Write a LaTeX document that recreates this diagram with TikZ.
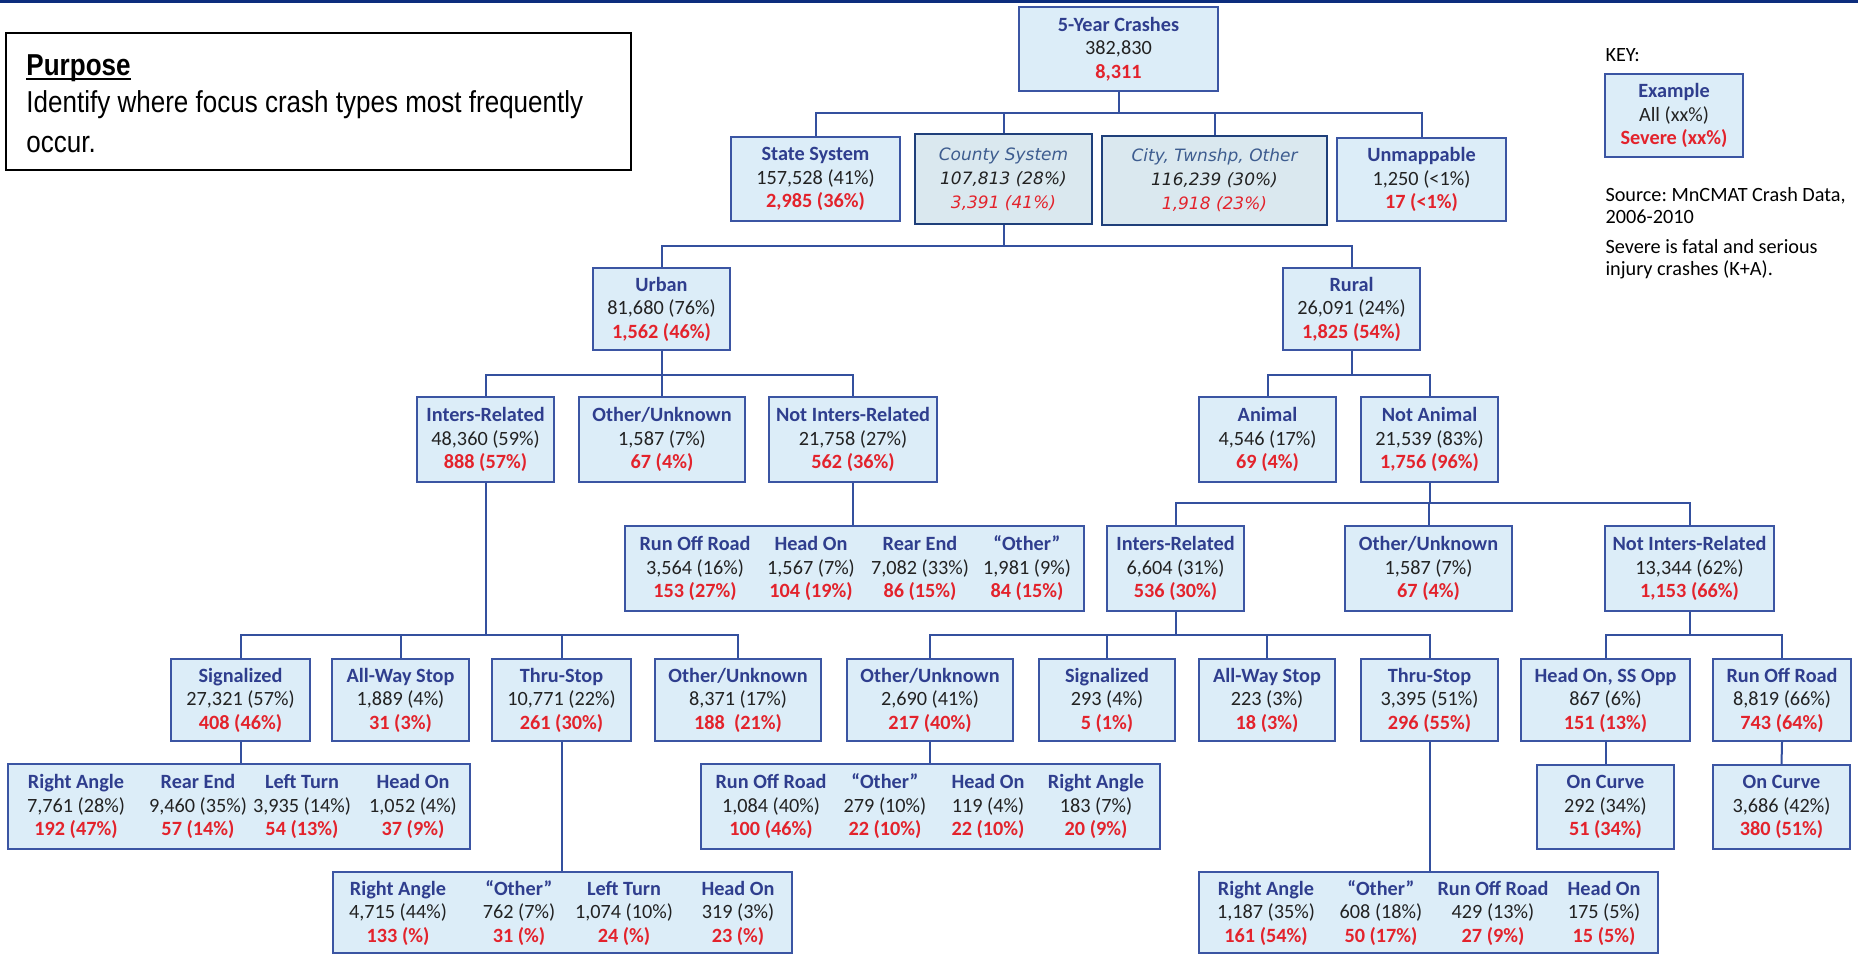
\documentclass[tikz,border=0pt]{standalone}
\usepackage{fontspec}
\setmainfont{Carlito}
\newfontfamily\purposefont{Liberation Sans}[FakeStretch=0.86]
\newfontfamily\vfont{DejaVu Sans}
\frenchspacing
\definecolor{bxfill}{HTML}{DCEDF8}
\definecolor{ibfill}{HTML}{DAE8EF}
\definecolor{bxline}{HTML}{3B55A3}
\definecolor{ibline}{HTML}{1F3F7A}
\definecolor{cnline}{HTML}{34509E}
\definecolor{ttl}{HTML}{2F3E8E}
\definecolor{ittl}{HTML}{3D5C8F}
\definecolor{num}{HTML}{222222}
\definecolor{sev}{HTML}{E3232C}
\definecolor{topband}{HTML}{0C2D7D}
\newcommand\three[3]{{\bfseries\color{ttl}#1}\\{\color{num}#2}\\{\bfseries\color{sev}#3}}
\newcommand\ithree[3]{{\color{ittl}#1}\\{\color{num}#2}\\{\color{sev}#3}}
\newcommand\cbx[7][box]{\node[#1, minimum width={(#5-#3)*0.4pt}, minimum height={(#6-#4)*0.4pt}] (#2) at ({(#3+#5)/2},{(#4+#6)/2}) {#7};}
\newcommand\ulpurpose[1]{\setbox0\hbox{#1}\leavevmode\rlap{\rule[-1.8pt]{\wd0}{0.8pt}}\box0}
\tikzset{
  box/.style={draw=bxline, line width=0.75pt, fill=bxfill, inner sep=0pt, align=center, font=\fontsize{8.1pt}{9.4pt}\selectfont},
  ibox/.style={draw=ibline, line width=1.1pt, fill=ibfill, inner sep=0pt, align=center, font=\vfont\itshape\fontsize{6.8pt}{9.6pt}\selectfont},
  plainbox/.style={draw=black, line width=0.8pt, fill=white, inner sep=0pt},
  coltext/.style={inner sep=0pt, align=center, font=\fontsize{8.1pt}{9.4pt}\selectfont},
  conn/.style={draw=cnline, line width=0.8pt},
  ptext/.style={inner sep=0pt, anchor=base west, font=\purposefont\fontsize{12.1pt}{15pt}\selectfont},
  ktext/.style={inner sep=0pt, anchor=base west, font=\fontsize{8.1pt}{9pt}\selectfont, text=black},
}
\begin{document}
\begin{tikzpicture}[x=0.4pt,y=-0.4pt]
\useasboundingbox (0,0) rectangle (1858,956);
\fill[topband] (0,0) rectangle (1858,3);

% Purpose
\cbx[plainbox]{purpose}{6}{33}{631}{170}{}
\node[ptext] (p1) at (26,75) {\bfseries\ulpurpose{Purpose}};
\node[ptext] (p2) at (26,112) {Identify where focus crash types most frequently};
\node[ptext] (p3) at (26,152) {occur.};

% Key
\node[ktext] (keyl) at (1605,61.7) {KEY:};
\cbx{key}{1605}{74}{1743}{157}{\three{Example}{All (xx\%)}{Severe (xx\%)}}
\node[ktext] (src1) at (1605,201) {Source: MnCMAT Crash Data,};
\node[ktext] (src2) at (1605,223) {2006-2010};
\node[ktext] (src3) at (1605,253) {Severe is fatal and serious};
\node[ktext] (src4) at (1605,275) {injury crashes (K+A).};

% Level 0-1
\cbx{top}{1019}{7}{1218}{91}{\three{5-Year Crashes}{382,830}{8,311}}
\cbx{state}{731}{137}{900}{221}{\three{State System}{157,528 (41\%)}{2,985 (36\%)}}
\cbx[ibox]{county}{915}{134}{1092}{224}{\ithree{County System}{107,813 (28\%)}{3,391 (41\%)}}
\cbx[ibox]{city}{1102}{136}{1327}{225}{\ithree{City, Twnshp, Other}{116,239 (30\%)}{1,918 (23\%)}}
\cbx{unmap}{1337}{138}{1506}{221}{\three{Unmappable}{1,250 (<1\%)}{17 (<1\%)}}

% Level 2
\cbx{urban}{593}{268}{730}{350}{\three{Urban}{81,680 (76\%)}{1,562 (46\%)}}
\cbx{rural}{1283}{268}{1420}{350}{\three{Rural}{26,091 (24\%)}{1,825 (54\%)}}

% Level 3
\cbx{uir}{417}{397}{554}{482}{\three{Inters-Related}{48,360 (59\%)}{888 (57\%)}}
\cbx{uou}{579}{397}{745}{482}{\three{Other/Unknown}{1,587 (7\%)}{67 (4\%)}}
\cbx{unir}{769}{397}{937}{482}{\three{Not Inters-Related}{21,758 (27\%)}{562 (36\%)}}
\cbx{animal}{1199}{397}{1336}{482}{\three{Animal}{4,546 (17\%)}{69 (4\%)}}
\cbx{notanimal}{1361}{397}{1498}{482}{\three{Not Animal}{21,539 (83\%)}{1,756 (96\%)}}

% Level 4
\cbx{unirc}{625}{526}{1084}{611}{}
\node[coltext] (unirc1) at (695,568.5) {\three{Run Off Road}{3,564 (16\%)}{153 (27\%)}};
\node[coltext] (unirc2) at (811,568.5) {\three{Head On}{1,567 (7\%)}{104 (19\%)}};
\node[coltext] (unirc3) at (920,568.5) {\three{Rear End}{7,082 (33\%)}{86 (15\%)}};
\node[coltext] (unirc4) at (1027,568.5) {\three{“Other”}{1,981 (9\%)}{84 (15\%)}};
\cbx{rir}{1107}{526}{1244}{611}{\three{Inters-Related}{6,604 (31\%)}{536 (30\%)}}
\cbx{rou}{1345}{526}{1512}{611}{\three{Other/Unknown}{1,587 (7\%)}{67 (4\%)}}
\cbx{rnir}{1605}{526}{1774}{611}{\three{Not Inters-Related}{13,344 (62\%)}{1,153 (66\%)}}

% Level 5
\cbx{usig}{171}{659}{310}{741}{\three{Signalized}{27,321 (57\%)}{408 (46\%)}}
\cbx{uaws}{332}{659}{469}{741}{\three{All-Way Stop}{1,889 (4\%)}{31 (3\%)}}
\cbx{uthru}{492}{659}{631}{741}{\three{Thru-Stop}{10,771 (22\%)}{261 (30\%)}}
\cbx{uou2}{655}{659}{821}{741}{\three{Other/Unknown}{8,371 (17\%)}{188\ \ (21\%)}}
\cbx{rou2}{847}{659}{1013}{741}{\three{Other/Unknown}{2,690 (41\%)}{217 (40\%)}}
\cbx{rsig}{1039}{659}{1175}{741}{\three{Signalized}{293 (4\%)}{5 (1\%)}}
\cbx{raws}{1199}{659}{1335}{741}{\three{All-Way Stop}{223 (3\%)}{18 (3\%)}}
\cbx{rthru}{1361}{659}{1498}{741}{\three{Thru-Stop}{3,395 (51\%)}{296 (55\%)}}
\cbx{rho}{1521}{659}{1690}{741}{\three{Head On, SS Opp}{867 (6\%)}{151 (13\%)}}
\cbx{rror}{1713}{659}{1851}{741}{\three{Run Off Road}{8,819 (66\%)}{743 (64\%)}}

% Level 6
\cbx{usigc}{8}{764}{470}{849}{}
\node[coltext] (usigc1) at (76,806.5) {\three{Right Angle}{7,761 (28\%)}{192 (47\%)}};
\node[coltext] (usigc2) at (198,806.5) {\three{Rear End}{9,460 (35\%)}{57 (14\%)}};
\node[coltext] (usigc3) at (302,806.5) {\three{Left Turn}{3,935 (14\%)}{54 (13\%)}};
\node[coltext] (usigc4) at (413,806.5) {\three{Head On}{1,052 (4\%)}{37 (9\%)}};
\cbx{rou2c}{701}{764}{1160}{849}{}
\node[coltext] (rou2c1) at (771,806.5) {\three{Run Off Road}{1,084 (40\%)}{100 (46\%)}};
\node[coltext] (rou2c2) at (885,806.5) {\three{“Other”}{279 (10\%)}{22 (10\%)}};
\node[coltext] (rou2c3) at (988,806.5) {\three{Head On}{119 (4\%)}{22 (10\%)}};
\node[coltext] (rou2c4) at (1096,806.5) {\three{Right Angle}{183 (7\%)}{20 (9\%)}};
\cbx{rhoc}{1537}{765}{1674}{849}{\three{On Curve}{292 (34\%)}{51 (34\%)}}
\cbx{rrorc}{1713}{765}{1850}{849}{\three{On Curve}{3,686 (42\%)}{380 (51\%)}}

% Level 7
\cbx{uthruc}{333}{872}{792}{953}{}
\node[coltext] (uthruc1) at (398,913) {\three{Right Angle}{4,715 (44\%)}{133 (\%)}};
\node[coltext] (uthruc2) at (519,913) {\three{“Other”}{762 (7\%)}{31 (\%)}};
\node[coltext] (uthruc3) at (624,913) {\three{Left Turn}{1,074 (10\%)}{24 (\%)}};
\node[coltext] (uthruc4) at (738,913) {\three{Head On}{319 (3\%)}{23 (\%)}};
\cbx{rthruc}{1199}{872}{1658}{953}{}
\node[coltext] (rthruc1) at (1266,913) {\three{Right Angle}{1,187 (35\%)}{161 (54\%)}};
\node[coltext] (rthruc2) at (1381,913) {\three{“Other”}{608 (18\%)}{50 (17\%)}};
\node[coltext] (rthruc3) at (1493,913) {\three{Run Off Road}{429 (13\%)}{27 (9\%)}};
\node[coltext] (rthruc4) at (1604,913) {\three{Head On}{175 (5\%)}{15 (5\%)}};

% Connectors
\coordinate (bus0) at (0,113);
\coordinate (bus1) at (0,246);
\coordinate (bus2) at (0,375);
\coordinate (bus3) at (0,503);
\coordinate (bus4) at (0,635);
\foreach \c in {state,county,city,unmap}
  \draw[conn] (top.south) -- (top.south |- bus0) -| (\c.north);
\foreach \c in {urban,rural}
  \draw[conn] (county.south) -- (county.south |- bus1) -| (\c.north);
\foreach \c in {uir,uou,unir}
  \draw[conn] (urban.south) -- (urban.south |- bus2) -| (\c.north);
\foreach \c in {animal,notanimal}
  \draw[conn] (rural.south) -- (rural.south |- bus2) -| (\c.north);
\foreach \c in {rir,rou,rnir}
  \draw[conn] (notanimal.south) -- (notanimal.south |- bus3) -| (\c.north);
\draw[conn] (unir.south) -- (unir.south |- unirc.north);
\foreach \c in {usig,uaws,uthru,uou2}
  \draw[conn] (uir.south) -- (uir.south |- bus4) -| (\c.north);
\foreach \c in {rou2,rsig,raws,rthru}
  \draw[conn] (rir.south) -- (rir.south |- bus4) -| (\c.north);
\foreach \c in {rho,rror}
  \draw[conn] (rnir.south) -- (rnir.south |- bus4) -| (\c.north);
\draw[conn] (usig.south) -- (usig.south |- usigc.north);
\draw[conn] (uthru.south) -- (uthru.south |- uthruc.north);
\draw[conn] (rou2.south) -- (rou2.south |- rou2c.north);
\draw[conn] (rthru.south) -- (rthru.south |- rthruc.north);
\draw[conn] (rho.south) -- (rhoc.north);
\draw[conn] (rror.south) -- (rrorc.north);
\end{tikzpicture}
\end{document}
